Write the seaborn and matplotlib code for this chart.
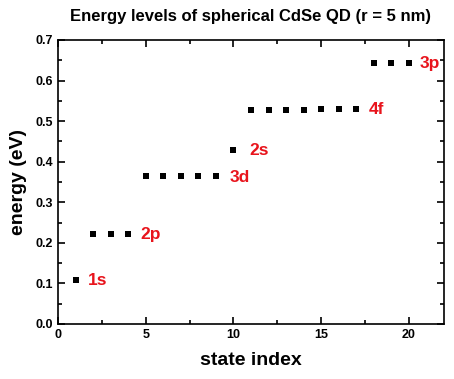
import matplotlib
matplotlib.use("Agg")
import matplotlib.pyplot as plt
from matplotlib.ticker import MultipleLocator, FormatStrFormatter
import pandas as pd
import seaborn as sns

# energy levels
state_index = [1, 2, 3, 4, 5, 6, 7, 8, 9, 10, 11, 12, 13, 14, 15, 16, 17, 18, 19, 20]
energy = [0.109, 0.223, 0.223, 0.223, 0.364, 0.364, 0.364, 0.364, 0.364, 0.430,
          0.527, 0.527, 0.527, 0.528, 0.531, 0.531, 0.531, 0.643, 0.643, 0.643]

# level names and where they sit
level_names = ["1s", "2p", "3d", "2s", "4f", "3p"]
level_x = [1.7, 4.7, 9.8, 10.9, 17.7, 20.6]
level_y = [0.109, 0.223, 0.364, 0.430, 0.531, 0.643]

df = pd.DataFrame({"state index": state_index, "energy (eV)": energy})

sns.set_style("ticks")
plt.rcParams["font.family"] = ["Liberation Sans", "DejaVu Sans"]
plt.rcParams["font.weight"] = "bold"
plt.rcParams["text.color"] = "black"
plt.rcParams["axes.labelcolor"] = "black"
plt.rcParams["axes.edgecolor"] = "black"
plt.rcParams["xtick.color"] = "black"
plt.rcParams["ytick.color"] = "black"

fig = plt.figure(figsize=(4.54, 3.79), dpi=100)
ax = fig.add_axes([58 / 454, 1 - 324 / 379, 386 / 454, 284 / 379])

sns.scatterplot(data=df, x="state index", y="energy (eV)", marker="s", color="black",
                s=22, linewidth=0, ax=ax)

for name, x, y in zip(level_names, level_x, level_y):
    ax.text(x, y - 0.002, name, color="#e8141c", fontsize=12.5, fontweight="bold",
            ha="left", va="center")

ax.set_xlim(0, 22)
ax.set_ylim(0, 0.7)
ax.xaxis.set_major_locator(MultipleLocator(5))
ax.xaxis.set_minor_locator(MultipleLocator(2.5))
ax.yaxis.set_major_locator(MultipleLocator(0.1))
ax.yaxis.set_minor_locator(MultipleLocator(0.05))
ax.yaxis.set_major_formatter(FormatStrFormatter("%.1f"))
ax.tick_params(which="both", direction="in", top=True, right=True, width=1.2)
ax.tick_params(which="major", length=5, labelsize=9)
ax.tick_params(which="minor", length=3)
for lab in ax.get_xticklabels() + ax.get_yticklabels():
    lab.set_fontweight("bold")
for sp in ax.spines.values():
    sp.set_linewidth(1.2)

ax.set_xlabel("state index", fontsize=14, fontweight="bold", labelpad=8)
ax.set_ylabel("energy (eV)", fontsize=14, fontweight="bold", labelpad=6)
ax.set_title("Energy levels of spherical CdSe QD (r = 5 nm)", fontsize=12,
             fontweight="bold", pad=14)

fig.savefig("out.png", dpi=100)
